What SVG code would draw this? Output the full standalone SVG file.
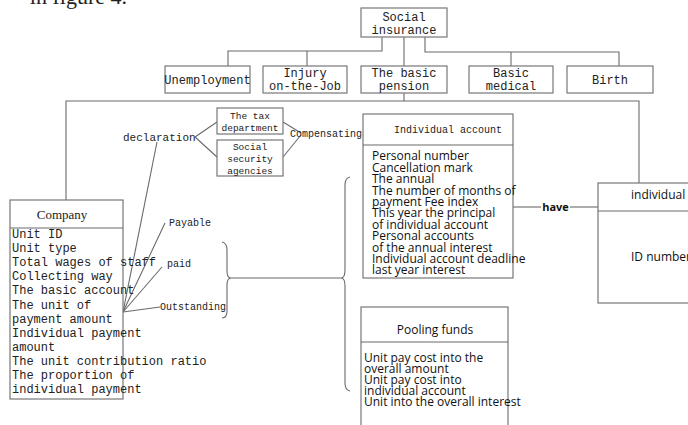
<svg xmlns="http://www.w3.org/2000/svg" width="688" height="425" viewBox="0 0 688 425">
<style>
.bx{fill:#fff;stroke:#777;stroke-width:1.2}
.ln{fill:none;stroke:#6a6a6a;stroke-width:1.1}
.m{font-family:"Liberation Mono","DejaVu Sans Mono",monospace;fill:#222}
.s{font-family:"Open Sans","Liberation Sans",sans-serif;fill:#111}
.sf{font-family:"Liberation Serif",serif;fill:#222}
</style>
<rect width="688" height="425" fill="#fff"/>
<text class="sf" x="127" y="4" font-size="22" text-anchor="end">in figure 4.</text>

<g id="connectors">
  <polyline class="ln" points="382,37 382,51 228,51 228,66"/>
  <line class="ln" x1="307" y1="51" x2="307" y2="66"/>
  <line class="ln" x1="404" y1="37" x2="404" y2="66"/>
  <polyline class="ln" points="425,37 425,52 619,52 619,66"/>
  <line class="ln" x1="511" y1="52" x2="511" y2="66"/>
  <line class="ln" x1="404" y1="93" x2="404" y2="101"/>
  <polyline class="ln" points="66,200 66,101 639,101 639,183"/>
  <line class="ln" x1="195" y1="137" x2="217" y2="122"/>
  <line class="ln" x1="195" y1="137" x2="217" y2="157"/>
  <line class="ln" x1="283" y1="122" x2="301" y2="133"/>
  <line class="ln" x1="283" y1="157" x2="301" y2="135"/>
  <line class="ln" x1="123" y1="312" x2="157" y2="142"/>
  <line class="ln" x1="123" y1="312" x2="165" y2="223"/>
  <line class="ln" x1="123" y1="312" x2="162" y2="267"/>
  <line class="ln" x1="123" y1="312" x2="160" y2="307"/>
  <path class="ln" d="M222,242 Q227,243 227,250 L227,271 Q227,278 231,278 Q227,278 227,285 L227,311 Q227,318 222,318"/>
  <line class="ln" x1="231" y1="278" x2="341" y2="278"/>
  <path class="ln" d="M350,177 Q345,178 345,185 L345,270 Q345,278 341,278 Q345,278 345,286 L345,383 Q345,390 350,391"/>
  <line class="ln" x1="513" y1="207" x2="541" y2="207"/>
  <line class="ln" x1="570" y1="207" x2="598" y2="207"/>
  <text class="s" x="555.5" y="211" font-size="11" font-weight="bold" text-anchor="middle" fill="#333">have</text>
  <text class="m" x="123" y="141" font-size="11">declaration</text>
  <text class="m" x="290" y="137" font-size="10">Compensating</text>
  <text class="m" x="169" y="226" font-size="10">Payable</text>
  <text class="m" x="167" y="267" font-size="10">paid</text>
  <text class="m" x="160" y="310" font-size="10">Outstanding</text>
</g>

<g id="social-insurance">
  <rect class="bx" x="361" y="8" width="86" height="29"/>
  <text class="m" x="404" y="21" font-size="12" text-anchor="middle">Social</text>
  <text class="m" x="404" y="34" font-size="12" text-anchor="middle">insurance</text>
</g>
<g id="unemployment">
  <rect class="bx" x="165" y="66" width="85" height="27"/>
  <text class="m" x="207.5" y="84" font-size="12" text-anchor="middle">Unemployment</text>
</g>
<g id="injury">
  <rect class="bx" x="263" y="66" width="84" height="27"/>
  <text class="m" x="305" y="77" font-size="12" text-anchor="middle">Injury</text>
  <text class="m" x="305" y="90" font-size="12" text-anchor="middle">on-the-Job</text>
</g>
<g id="basic-pension">
  <rect class="bx" x="361" y="66" width="86" height="27"/>
  <text class="m" x="404" y="77" font-size="12" text-anchor="middle">The basic</text>
  <text class="m" x="404" y="90" font-size="12" text-anchor="middle">pension</text>
</g>
<g id="basic-medical">
  <rect class="bx" x="469" y="66" width="84" height="27"/>
  <text class="m" x="511" y="77" font-size="12" text-anchor="middle">Basic</text>
  <text class="m" x="511" y="90" font-size="12" text-anchor="middle">medical</text>
</g>
<g id="birth">
  <rect class="bx" x="567" y="66" width="86" height="27"/>
  <text class="m" x="610" y="84" font-size="12" text-anchor="middle">Birth</text>
</g>

<g id="tax-department">
  <rect class="bx" x="217" y="108" width="66" height="26"/>
  <text class="m" x="250" y="119" font-size="9.5" text-anchor="middle">The tax</text>
  <text class="m" x="250" y="131" font-size="9.5" text-anchor="middle">department</text>
</g>
<g id="social-security">
  <rect class="bx" x="217" y="140" width="66" height="36"/>
  <text class="m" x="250" y="150" font-size="9.5" text-anchor="middle">Social</text>
  <text class="m" x="250" y="162" font-size="9.5" text-anchor="middle">security</text>
  <text class="m" x="250" y="174" font-size="9.5" text-anchor="middle">agencies</text>
</g>

<g id="company">
  <rect class="bx" x="10" y="200" width="113" height="199"/>
  <line class="ln" x1="10" y1="228" x2="123" y2="228"/>
  <text class="sf" x="62" y="219" font-size="13" text-anchor="middle">Company</text>
  <g class="m" font-size="12">
    <text x="12" y="238">Unit ID</text>
    <text x="12" y="252">Unit type</text>
    <text x="12" y="266">Total wages of staff</text>
    <text x="12" y="280">Collecting way</text>
    <text x="12" y="294">The basic account</text>
    <text x="12" y="309">The unit of</text>
    <text x="12" y="323">payment amount</text>
    <text x="12" y="337">Individual payment</text>
    <text x="12" y="351">amount</text>
    <text x="12" y="365">The unit contribution ratio</text>
    <text x="12" y="379">The proportion of</text>
    <text x="12" y="393">individual payment</text>
  </g>
</g>

<g id="individual-account">
  <rect class="bx" x="363" y="114" width="150" height="164"/>
  <line class="ln" x1="363" y1="145" x2="513" y2="145"/>
  <text class="m" x="448" y="133" font-size="10" text-anchor="middle">Individual account</text>
  <g class="s" font-size="12">
    <text x="372" y="160">Personal number</text>
    <text x="372" y="172">Cancellation mark</text>
    <text x="372" y="183">The annual</text>
    <text x="372" y="195">The number of months of</text>
    <text x="372" y="206">payment Fee index</text>
    <text x="372" y="217">This year the principal</text>
    <text x="372" y="229">of individual account</text>
    <text x="372" y="240">Personal accounts</text>
    <text x="372" y="252">of the annual interest</text>
    <text x="372" y="263">Individual account deadline</text>
    <text x="372" y="274">last year interest</text>
  </g>
</g>

<g id="individual">
  <rect class="bx" x="598" y="183" width="110" height="120"/>
  <line class="ln" x1="598" y1="211" x2="688" y2="211"/>
  <text class="s" x="631" y="199" font-size="12">individual</text>
  <text class="s" x="631" y="261" font-size="12">ID number</text>
</g>

<g id="pooling-funds">
  <rect class="bx" x="361" y="307" width="147" height="130"/>
  <line class="ln" x1="361" y1="342" x2="508" y2="342"/>
  <text class="s" x="435" y="334" font-size="12" text-anchor="middle">Pooling funds</text>
  <g class="s" font-size="12">
    <text x="364" y="362">Unit pay cost into the</text>
    <text x="364" y="373">overall amount</text>
    <text x="364" y="384">Unit pay cost into</text>
    <text x="364" y="395">individual account</text>
    <text x="364" y="406">Unit into the overall interest</text>
  </g>
</g>
</svg>
